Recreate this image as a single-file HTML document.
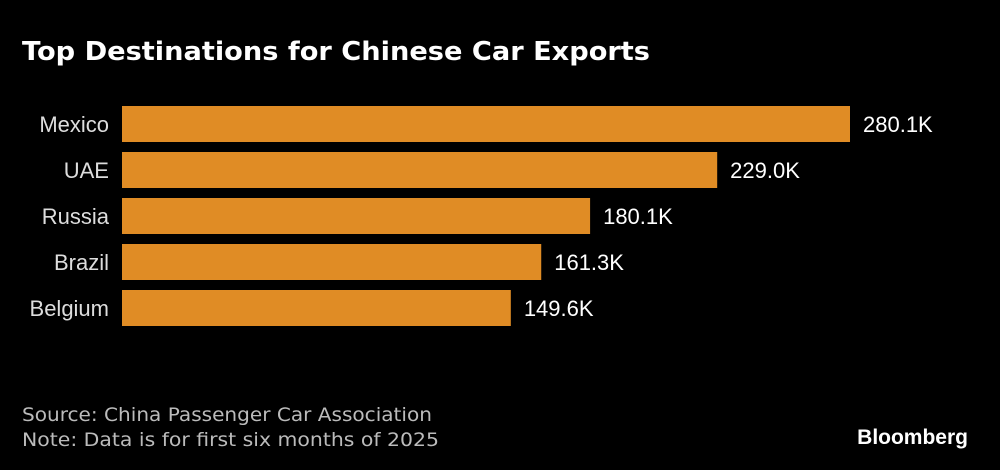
<!DOCTYPE html>
<html><head><meta charset="utf-8"><style>
html,body{margin:0;padding:0;background:#000;width:1000px;height:470px;overflow:hidden}
svg{display:block}
</style></head><body>
<svg id="chart" width="1000" height="470" xmlns="http://www.w3.org/2000/svg">
<rect width="1000" height="470" fill="#000"/>
<text x="22" y="60" fill="#fff" font-family="'DejaVu Sans',sans-serif" font-weight="bold" font-size="26" textLength="628" lengthAdjust="spacingAndGlyphs">Top Destinations for Chinese Car Exports</text>
<g id="bars"></g>
<text x="22" y="421" fill="#bbb" font-family="'DejaVu Sans',sans-serif" font-size="19" textLength="410" lengthAdjust="spacingAndGlyphs">Source: China Passenger Car Association</text>
<text x="22" y="446" fill="#bbb" font-family="'DejaVu Sans',sans-serif" font-size="19" textLength="417" lengthAdjust="spacingAndGlyphs">Note: Data is for first six months of 2025</text>
<text x="968" y="444" text-anchor="end" fill="#fff" font-family="'Liberation Sans',sans-serif" font-weight="bold" font-size="21">Bloomberg</text>
</svg>
<script>
const categories = ["Mexico","UAE","Russia","Brazil","Belgium"];
const values = [280.1,229.0,180.1,161.3,149.6];
const valueLabels = ["280.1K","229.0K","180.1K","161.3K","149.6K"];
const x0 = 122, pxPerK = 728/280.1, top0 = 106, step = 46, barH = 36;
function xScale(v){return x0 + v*pxPerK;}
function yScale(i){return top0 + i*step;}
const g = document.getElementById('bars');
const ns = "http://www.w3.org/2000/svg";
categories.forEach((c,i)=>{
  const y = yScale(i);
  const r = document.createElementNS(ns,'rect');
  r.setAttribute('x',x0);r.setAttribute('y',y);
  r.setAttribute('width',xScale(values[i])-x0);r.setAttribute('height',barH);
  r.setAttribute('fill','#E08C25');
  
  
  g.appendChild(r);
  const l = document.createElementNS(ns,'text');
  l.setAttribute('x',109);l.setAttribute('y',y+barH/2+8);
  l.setAttribute('text-anchor','end');l.setAttribute('fill','#ddd');
  l.setAttribute('font-family',"'Liberation Sans',sans-serif");l.setAttribute('font-size','22');
  l.textContent = c;
  
  
  g.appendChild(l);
  const v = document.createElementNS(ns,'text');
  v.setAttribute('x',xScale(values[i])+13);v.setAttribute('y',y+barH/2+8);
  v.setAttribute('fill','#fff');
  v.setAttribute('font-family',"'Liberation Sans',sans-serif");v.setAttribute('font-size','22');
  v.textContent = valueLabels[i];
  
  
  g.appendChild(v);
});
</script>
</body></html>
